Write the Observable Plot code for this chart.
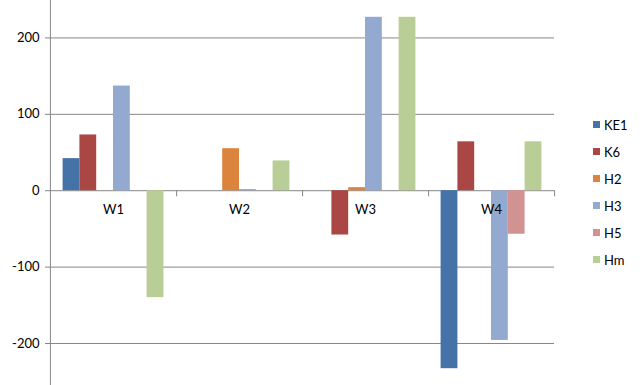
<!DOCTYPE html>
<html>
<head>
<meta charset="utf-8">
<script src="https://cdn.jsdelivr.net/npm/d3@7"></script>
<script src="https://cdn.jsdelivr.net/npm/@observablehq/plot@0.6"></script>
<style>
  html, body { margin: 0; padding: 0; background: #fff; }
  #wrap { position: relative; width: 640px; height: 385px; font-family: Lato, "Open Sans", sans-serif; }
  #legend { position: absolute; left: 593px; top: 111px; font-size: 13px; color: #000; }
  .item { display: flex; align-items: center; height: 27px; margin: 0; }
  .sw { width: 7px; height: 7px; margin-right: 4px; }
  .item span { line-height: 14px; }
</style>
</head>
<body>
<div id="wrap"><div id="chart"></div><div id="legend"></div></div>
<script>
const weeks = ["W1", "W2", "W3", "W4"];
const seriesNames = ["KE1", "K6", "H2", "H3", "H5", "Hm"];
const colors = ["#4572A7", "#AA4643", "#DB843D", "#93A9CF", "#D19392", "#B9CD96"];
const KE1 = [42, 0, 0, -233];
const K6 = [73, 0, -58, 64];
const H2 = [0, 55, 4, 0];
const H3 = [137, 1.5, 227, -196];
const H5 = [0, 0, 0, -57];
const Hm = [-140, 39, 227, 64];
const yTicks = [-200, -100, 0, 100, 200];

const valuesBySeries = [KE1, K6, H2, H3, H5, Hm];
const rows = [];
weeks.forEach((w, i) => {
  seriesNames.forEach((s, j) => rows.push({week: w, series: s, value: valuesBySeries[j][i]}));
});

const chart = Plot.plot({
  width: 640,
  height: 385,
  marginLeft: 49,
  marginRight: 85,
  marginTop: 0,
  marginBottom: 0,
  style: {fontFamily: "Lato, 'Open Sans', sans-serif", fontSize: "13px", color: "#000", background: "#fff"},
  fx: {domain: weeks, padding: 0, axis: null},
  x: {domain: seriesNames, paddingInner: 0, paddingOuter: 0.75, axis: null, round: false},
  y: {domain: [-255, 249], axis: null},
  color: {domain: seriesNames, range: colors},
  marks: [
    Plot.gridY(yTicks, {stroke: "#868686", strokeOpacity: 1, strokeWidth: 1}),
    Plot.barY(rows, {fx: "week", x: "series", y: "value", fill: "series", inset: 0}),
    Plot.ruleX(["Hm"], {x: d => d, y1: 0, y2: -8, stroke: "#868686", dx: 21.1}),
    Plot.text(weeks, {fx: d => d, y: 0, text: d => d, dy: 19, fill: "#000", fontSize: 13}),
    Plot.axisY(yTicks, {anchor: "left", tickSize: 5, tickPadding: 6, stroke: "#868686", fill: "#000", label: null, fontSize: 13, tickFormat: d => String(d)}),
    Plot.ruleX(["KE1"], {x: d => d, facetAnchor: "left", dx: -21.1, stroke: "#868686"})
  ]
});
document.getElementById("chart").appendChild(chart);

const legend = document.getElementById("legend");
seriesNames.forEach((s, i) => {
  const item = document.createElement("div");
  item.className = "item";
  const sw = document.createElement("div");
  sw.className = "sw";
  sw.style.background = colors[i];
  const t = document.createElement("span");
  t.textContent = s;
  item.appendChild(sw);
  item.appendChild(t);
  legend.appendChild(item);
});
</script>
</body>
</html>
